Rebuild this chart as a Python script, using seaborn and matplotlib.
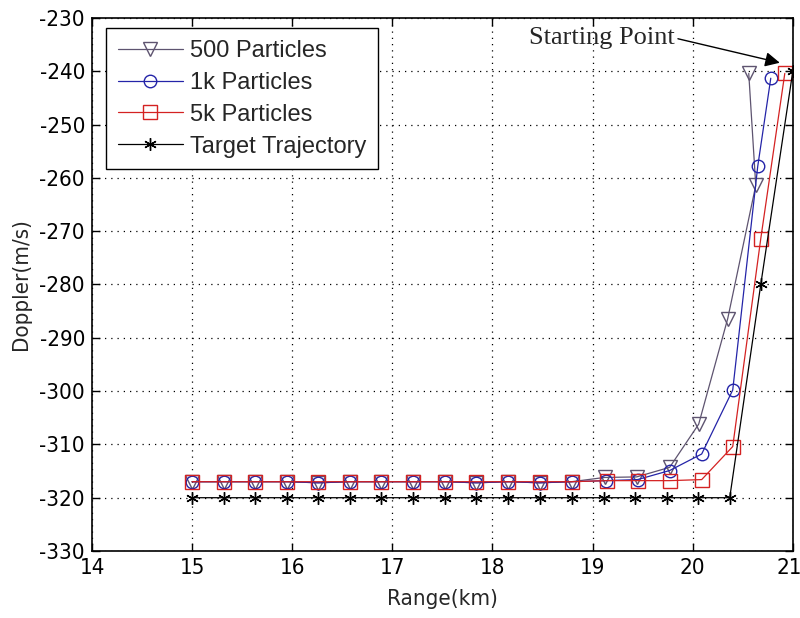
import numpy as np
import pandas as pd
import matplotlib
matplotlib.use("Agg")
import matplotlib.pyplot as plt
import matplotlib.transforms as mtransforms
from matplotlib import font_manager
import seaborn as sns

# ---- data ----
x_target = [15.00, 15.32, 15.63, 15.95, 16.26, 16.58, 16.89, 17.21, 17.53, 17.84,
            18.16, 18.47, 18.79, 19.11, 19.42, 19.74, 20.05, 20.37, 20.68, 21.00]
y_target = [-320, -320, -320, -320, -320, -320, -320, -320, -320, -320,
            -320, -320, -320, -320, -320, -320, -320, -320, -280, -240]

x_500 = [15.00, 15.32, 15.63, 15.95, 16.26, 16.58, 16.89, 17.21, 17.53, 17.84,
         18.16, 18.47, 18.79, 19.12, 19.44, 19.77, 20.06, 20.35, 20.63, 20.56]
y_500 = [-317.0, -317.0, -317.0, -317.0, -317.2, -317.0, -317.0, -317.0, -317.0, -317.2,
         -317.0, -317.2, -317.0, -316.2, -316.1, -314.3, -306.2, -286.4, -261.4, -240.4]

x_1k = [15.00, 15.32, 15.63, 15.95, 16.26, 16.58, 16.89, 17.21, 17.53, 17.84,
        18.16, 18.47, 18.79, 19.13, 19.45, 19.77, 20.09, 20.40, 20.65, 20.78]
y_1k = [-317.0, -317.0, -317.0, -317.0, -317.2, -317.0, -317.0, -317.0, -317.0, -317.2,
        -317.0, -317.2, -317.0, -316.8, -316.6, -314.9, -311.8, -299.8, -257.8, -241.3]

x_5k = [15.00, 15.32, 15.63, 15.95, 16.26, 16.58, 16.89, 17.21, 17.53, 17.84,
        18.16, 18.47, 18.79, 19.14, 19.45, 19.77, 20.09, 20.40, 20.68, 20.92]
y_5k = [-317.0, -317.0, -317.0, -317.0, -317.0, -317.0, -317.0, -317.0, -317.0, -317.0,
        -317.0, -317.0, -317.0, -316.8, -316.8, -316.8, -316.6, -310.4, -271.4, -240.4]

labels = ["500 Particles", "1k Particles", "5k Particles", "Target Trajectory"]
x_ticks = [14, 15, 16, 17, 18, 19, 20, 21]
y_ticks = [-330, -320, -310, -300, -290, -280, -270, -260, -250, -240, -230]
annotation_text = "Starting Point"

# ---- style ----
sns.set_style("ticks")
plt.rcParams["font.family"] = ["Liberation Sans", "DejaVu Sans"]


def pick_narrow_font():
    # prefer a condensed sans for MATLAB-like tick labels, if one is installed
    for fam, stretch in [("Liberation Sans Narrow", "normal"), ("DejaVu Sans", "condensed")]:
        try:
            path = font_manager.findfont(
                font_manager.FontProperties(family=fam, stretch=stretch),
                fallback_to_default=False)
            if "Narrow" in path or "Condensed" in path:
                return dict(family=[fam], stretch=stretch)
        except Exception:
            pass
    return dict(family=["Liberation Sans"], stretch="normal")


narrow = pick_narrow_font()
tick_font = dict(family=narrow["family"], stretch=narrow["stretch"], size=16)

fig = plt.figure(figsize=(8, 6.18), dpi=100)
ax = fig.add_axes([0.115, 0.1084, 0.876, 0.8625])

series = [
    (x_500, y_500, labels[0], "#5e5470", "v", 10, "none"),
    (x_1k, y_1k, labels[1], "#2424a8", "o", 9, "none"),
    (x_5k, y_5k, labels[2], "#d42222", "s", 10, "none"),
    (x_target, y_target, labels[3], "black", (6, 2, 0), 9, "black"),
]
for xs, ys, lab, col, mk, ms, mfc in series:
    df = pd.DataFrame({"x": xs, "y": ys})
    sns.lineplot(data=df, x="x", y="y", ax=ax, sort=False, estimator=None,
                 color=col, marker=mk, markersize=ms, markerfacecolor=mfc,
                 markeredgecolor=col, markeredgewidth=1.0, linewidth=0.9,
                 label=lab)

ax.set_xlim(14, 21)
ax.set_ylim(-330, -230)
ax.set_xticks(x_ticks)
ax.set_yticks(y_ticks)

ax.set_xticklabels([str(t) for t in x_ticks], fontdict=tick_font)
ax.set_yticklabels([str(t) for t in y_ticks], fontdict=tick_font)
ax.tick_params(direction="in", length=6, width=1, top=True, right=True,
               colors="black", pad=5)
# keep the last x tick label inside the canvas
last = ax.get_xticklabels()[-1]
last.set_transform(last.get_transform() +
                   mtransforms.ScaledTranslation(-4 / 100, 0, fig.dpi_scale_trans))

ax.grid(True, color="black", linestyle=(0, (1, 4)), linewidth=0.9)
for s in ax.spines.values():
    s.set_color("black")
    s.set_linewidth(1.2)

ax.set_xlabel("Range(km)", fontdict=tick_font, labelpad=8)
ax.set_ylabel("Doppler(m/s)", fontdict=tick_font, labelpad=6)

leg = ax.legend(loc="upper left", bbox_to_anchor=(0.02, 0.981), borderaxespad=0,
                frameon=True, fancybox=False, shadow=False,
                prop=dict(family=["Liberation Sans"], size=17),
                handlelength=2.75, labelspacing=0.42, borderpad=0.5,
                handletextpad=0.3)
leg.get_frame().set_edgecolor("black")
leg.get_frame().set_linewidth(1.0)
leg.get_frame().set_alpha(1)

ax.annotate(annotation_text, xy=(20.87, -238.4), xytext=(19.82, -233.75),
            ha="right", va="center", fontsize=19, family=["Liberation Serif"],
            arrowprops=dict(arrowstyle="-|>", color="black", lw=1.0,
                            mutation_scale=22, shrinkA=0, shrinkB=0,
                            relpos=(1.0, 0.5)))

fig.savefig("out.png", dpi=100)
